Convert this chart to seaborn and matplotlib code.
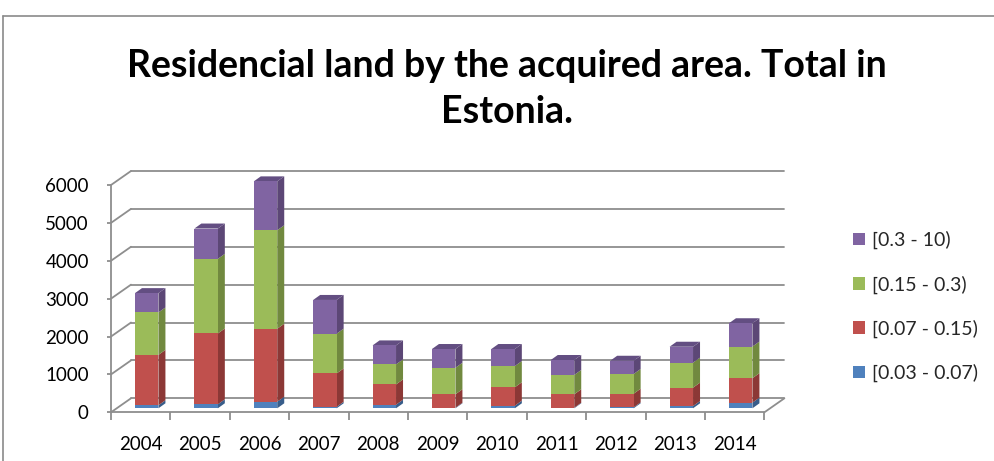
import numpy as np
import pandas as pd
import matplotlib
matplotlib.use("Agg")
import matplotlib.pyplot as plt
from matplotlib.patches import Polygon, Rectangle
from matplotlib.lines import Line2D
from matplotlib.transforms import ScaledTranslation
import seaborn as sns

# ---- data -------------------------------------------------------------
years = ["2004", "2005", "2006", "2007", "2008", "2009",
         "2010", "2011", "2012", "2013", "2014"]
series_labels = ["[0.03 - 0.07)", "[0.07 - 0.15)", "[0.15 - 0.3)", "[0.3 - 10)"]
area_003_007 = [80, 105, 175, 40, 95, 15, 70, 15, 25, 60, 150]
area_007_015 = [1330, 1870, 1925, 880, 535, 355, 485, 355, 360, 485, 645]
area_015_03 = [1120, 1970, 2600, 1050, 530, 700, 560, 510, 520, 660, 835]
area_03_10 = [510, 800, 1290, 890, 500, 495, 450, 395, 350, 420, 615]
y_ticks = [0, 1000, 2000, 3000, 4000, 5000, 6000]
title_lines = ["Residencial land by the acquired area. Total in", "Estonia."]

front_colors = ["#4F81BD", "#C0504D", "#9BBB59", "#8064A2"]
side_colors = ["#385D8A", "#8C3836", "#71893F", "#5C4776"]
top_colors = ["#3F6A9C", "#9C3F3C", "#7D9946", "#634E82"]

layers = [area_003_007, area_007_015, area_015_03, area_03_10]
cum = np.cumsum(np.array(layers, dtype=float), axis=0)

W, H, DPI = 994, 461, 100
sns.set_theme(style="white")
plt.rcParams["font.family"] = ["Lato", "DejaVu Sans"]

fig = plt.figure(figsize=(W / DPI, H / DPI), dpi=DPI)
fig.patch.set_facecolor("white")

# plot area (front plane of the box)
left_px, right_px = 111.0, 111.0 + 11 * 59.4
zero_px, top_px = 412.3, 185.0
ax = fig.add_axes([left_px / W, (H - zero_px) / H,
                   (right_px - left_px) / W, (zero_px - top_px) / H])
ax.set_xlim(-0.5, 10.5)
ax.set_ylim(0, 6000)
ax.set_facecolor("none")

px_x = (right_px - left_px) / 11.0          # pixels per category
px_y = (zero_px - top_px) / 6000.0          # pixels per unit
wall_dx, wall_dy = 20 / px_x, 14 / px_y     # depth of the back wall
bar_dx, bar_dy = 7 / px_x, 5 / px_y         # depth of each column
grid_c = "#8E8E8E"
grid_lw = 1.3

# back wall gridlines and their connectors to the value axis
for v in y_ticks:
    ax.plot([-0.5 + wall_dx, 10.5 + wall_dx], [v + wall_dy, v + wall_dy],
            color=grid_c, lw=grid_lw, clip_on=False, zorder=1)
    ax.plot([-0.5, -0.5 + wall_dx], [v, v + wall_dy],
            color=grid_c, lw=grid_lw, clip_on=False, zorder=1)
ax.plot([10.5, 10.5 + wall_dx], [0, wall_dy], color=grid_c, lw=grid_lw,
        clip_on=False, zorder=1)

# columns: front faces drawn as overlapping cumulative bars, top layer first
shift = ScaledTranslation(6 / DPI, 4 / DPI, fig.dpi_scale_trans)
for i in range(3, -1, -1):
    df = pd.DataFrame({"year": years, "value": cum[i]})
    sns.barplot(data=df, x="year", y="value", color=front_colors[i],
                saturation=1, width=0.395, ax=ax, zorder=3,
                linewidth=0, label=series_labels[i])
front_patches = [p for p in ax.patches]
for p in front_patches:
    p.set_transform(ax.transData + shift)
    p.set_clip_on(False)

bw = 0.395
for j in range(len(years)):
    xr = j + bw / 2
    xl = j - bw / 2
    for i in range(4):
        b = cum[i - 1][j] if i > 0 else 0.0
        t = cum[i][j]
        side = Polygon([(xr, b), (xr, t), (xr + bar_dx, t + bar_dy),
                        (xr + bar_dx, b + bar_dy)], closed=True,
                       facecolor=side_colors[i], edgecolor="none",
                       transform=ax.transData + shift, clip_on=False, zorder=2)
        ax.add_patch(side)
    T = cum[3][j]
    top = Polygon([(xl, T), (xr, T), (xr + bar_dx, T + bar_dy),
                   (xl + bar_dx, T + bar_dy)], closed=True,
                  facecolor=top_colors[3], edgecolor="none",
                  transform=ax.transData + shift, clip_on=False, zorder=2)
    ax.add_patch(top)

# axes styling
for s in ["top", "right"]:
    ax.spines[s].set_visible(False)
for s in ["left", "bottom"]:
    ax.spines[s].set_color(grid_c)
    ax.spines[s].set_linewidth(grid_lw)
    ax.spines[s].set_zorder(1)

ax.set_yticks(y_ticks)
ax.set_yticklabels([str(v) for v in y_ticks], fontsize=13.5, color="#000000")
ax.tick_params(axis="y", direction="out", length=3, width=grid_lw,
               color=grid_c, pad=13, left=True)
ax.set_xticks(range(len(years)))
ax.set_xticklabels(years, fontsize=13.5, color="#000000")
ax.set_xticks(np.arange(-0.5, 11.0, 1.0), minor=True)
ax.tick_params(axis="x", which="major", length=0, pad=17, bottom=False)
ax.tick_params(axis="x", which="minor", direction="out", length=6,
               width=grid_lw, color=grid_c, bottom=True)
ax.set_xlabel("")
ax.set_ylabel("")
ax.grid(False)
if ax.get_legend() is not None:
    ax.get_legend().remove()

# legend
handles = [Rectangle((0, 0), 1, 1, facecolor=c, edgecolor="none")
           for c in front_colors]
fig.legend(handles[::-1], series_labels[::-1], loc="upper left",
           bbox_to_anchor=(853 / W, 1 - 231 / H), frameon=False,
           fontsize=14, handlelength=0.6, handleheight=0.6,
           handletextpad=0.4, labelspacing=1.33, borderpad=0,
           borderaxespad=0)

# title, two centred lines on fixed baselines
for line, base_px in zip(title_lines, [77, 123]):
    fig.text(507 / W, 1 - base_px / H, line, ha="center", va="baseline",
             fontsize=27, fontweight="bold", color="#000000")

# chart frame
fig.add_artist(Line2D([3 / W, 3 / W], [0, 1 - 16 / H], transform=fig.transFigure,
                      color="#8A8A8A", lw=1.2))
fig.add_artist(Line2D([3 / W, 1], [1 - 16 / H, 1 - 16 / H],
                      transform=fig.transFigure, color="#8A8A8A", lw=1.2))

fig.savefig("out.png", dpi=DPI, facecolor="white")
